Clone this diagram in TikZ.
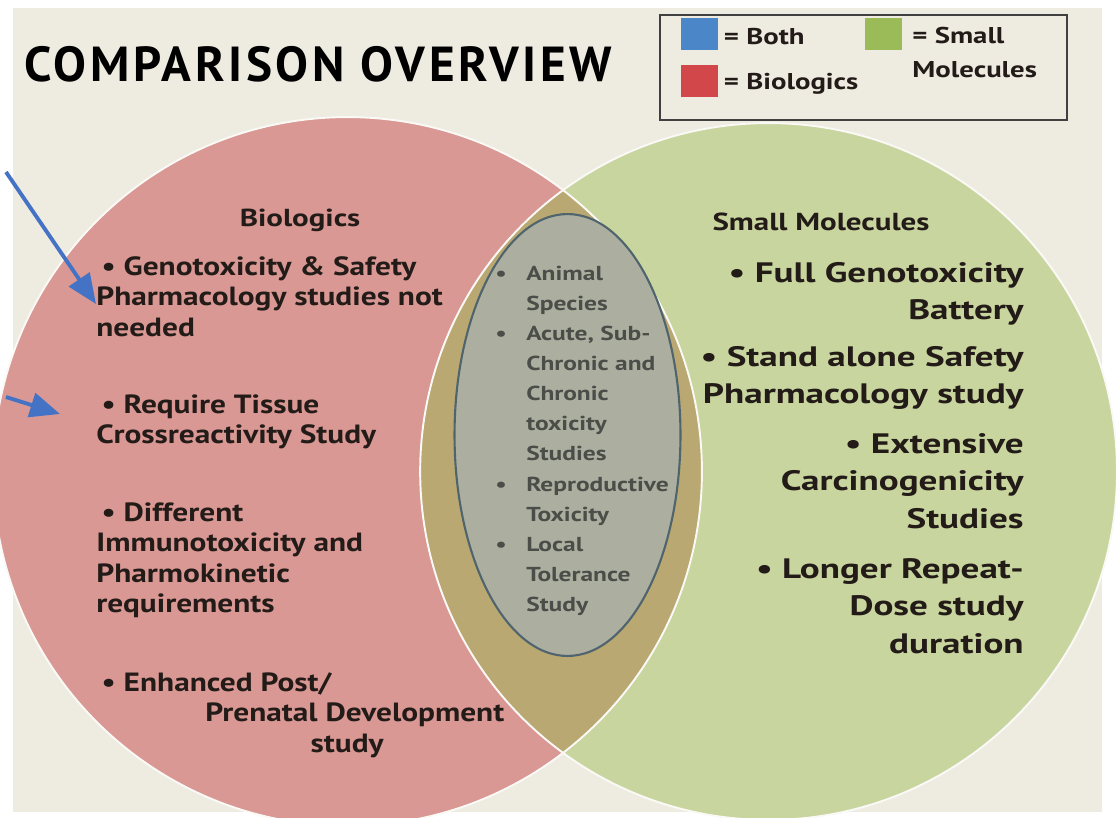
\documentclass[tikz,border=0pt]{standalone}
\usepackage{fontspec}
\setmainfont{PT Sans}
% widened cuts of the same face for the different text blocks
\newfontfamily\titlefont{PT Sans}[LetterSpace=7.5]
\newfontfamily\leftfont{PT Sans}[FakeStretch=1.19]
\newfontfamily\rightfont{PT Sans}[FakeStretch=1.32]
\newfontfamily\widefont{PT Sans}[FakeStretch=1.26]
\usetikzlibrary{arrows.meta,positioning,shapes.geometric}
\definecolor{paper}{HTML}{EEEBE1}
\definecolor{biored}{HTML}{D99893}
\definecolor{smgreen}{HTML}{C8D59E}
\definecolor{overlap}{HTML}{BAA872}
\definecolor{ovalfill}{HTML}{ACAFA0}
\definecolor{ovalline}{HTML}{50646E}
\definecolor{ovalink}{HTML}{4B4D48}
\definecolor{inkdark}{HTML}{231B18}
\definecolor{keyblue}{HTML}{4A86C8}
\definecolor{keyred}{HTML}{D2484A}
\definecolor{keygreen}{HTML}{9BBB59}
\definecolor{pointerblue}{HTML}{4472C4}
% bullet and hanging indent for the shared list
\newcommand{\lbl}{\makebox[17.6pt][l]{\textbullet}}
\newcommand{\lin}{\hspace*{17.6pt}}
\tikzset{
  vennedge/.style={draw=white!70!paper, line width=1.1pt},
  sharedoval/.style={ellipse, draw=ovalline, line width=1.2pt, fill=ovalfill, minimum width=4.52cm, minimum height=8.84cm, inner sep=0pt},
  lefttext/.style={font=\leftfont\bfseries\fontsize{15}{17.4}\selectfont, text=inkdark, align=left, inner sep=0pt, anchor=north west},
  righttext/.style={font=\rightfont\bfseries\fontsize{16}{21.3}\selectfont, text=inkdark, align=right, inner sep=0pt, anchor=north east},
  ovaltext/.style={font=\widefont\bfseries\fontsize{11.5}{17.1}\selectfont, text=ovalink, align=left, inner sep=0pt, anchor=north west},
  heading/.style={font=\widefont\bfseries\fontsize{14}{16}\selectfont, text=inkdark, inner sep=0pt},
  swatch/.style={minimum width=0.74cm, minimum height=0.64cm, inner sep=0pt},
  keytext/.style={font=\widefont\bfseries\fontsize{13}{19}\selectfont, text=inkdark, inner sep=0pt, align=left},
  pointer/.style={-{Triangle[length=17pt,width=14pt]}, line width=2.2pt, draw=pointerblue}
}
\begin{document}
\begin{tikzpicture}[x=0.02cm, y=-0.02cm]
\useasboundingbox (0,0) rectangle (1116,818);
\clip (0,0) rectangle (1116,818);
\fill[white] (0,0) rectangle (1116,818);
\fill[paper] (13,8) rectangle (1102,812);

% the two sets
\coordinate (bio) at (347.5,471.5);
\coordinate (sm) at (768.6,471.5);
\fill[biored] (bio) circle (7.09cm);
\fill[smgreen] (sm) circle (6.97cm);
\begin{scope}
  \clip (bio) circle (7.09cm);
  \fill[overlap] (sm) circle (6.97cm);
\end{scope}
\draw[vennedge] (bio) circle (7.09cm);
\draw[vennedge] (sm) circle (6.97cm);
\node[sharedoval] (shared) at (567.5,435) {};

% title and key
\node[anchor=west, inner sep=0pt, font=\titlefont\bfseries\fontsize{28}{32}\selectfont] (title) at (24,64) {COMPARISON OVERVIEW};
\node[draw=black!75, line width=1.2pt, minimum width=8.14cm, minimum height=2.1cm] (key) at (863.5,67.5) {};
\node[swatch, fill=keyblue] (kboth) at (699.5,34) {};
\node[swatch, fill=keyred] (kbio) at (699.5,81) {};
\node[swatch, fill=keygreen] (ksm) at (883,34) {};
\node[keytext, right=3pt of kboth, yshift=-1.5pt] (lboth) {= Both};
\node[keytext, right=3pt of kbio, yshift=-1.5pt] (lbio) {= Biologics};
\node[keytext, anchor=north west] (lsm) at (912,27) {= Small\\Molecules};

% biologics column
\node[heading] (biohead) at (300,220) {Biologics};
\node[lefttext] (b1) at (96,256) {\hspace*{3pt}\textbullet\ Genotoxicity \& Safety\\Pharmacology studies not\\needed};
\node[lefttext] (b2) at (96,394) {\hspace*{3pt}\textbullet\ Require Tissue\\Crossreactivity Study};
\node[lefttext] (b3) at (96,502) {\hspace*{3pt}\textbullet\ Different\\Immunotoxicity and\\Pharmokinetic\\requirements};
\node[lefttext] (b4) at (96,672) {\hspace*{3pt}\textbullet\ Enhanced Post/\\\hspace*{62pt}Prenatal Development\\\hspace*{122pt}study};

% shared list
\node[ovaltext] (common) at (495,266) {\lbl Animal\\\lin Species\\\lbl Acute, Sub-\\\lin Chronic and\\\lin Chronic\\\lin toxicity\\\lin Studies\\\lbl Reproductive\\\lin Toxicity\\\lbl Local\\\lin Tolerance\\\lin Study};

% small molecules column
\node[heading] (smhead) at (821,222) {Small Molecules};
\node[righttext] (s1) at (1024,262) {\textbullet\ Full Genotoxicity\\Battery};
\node[righttext] (s2) at (1024,346) {\textbullet\ Stand alone Safety\\Pharmacology study};
\node[righttext] (s3) at (1024,433) {\textbullet\ Extensive\\Carcinogenicity\\Studies};
\node[righttext] (s4) at (1024,558) {\textbullet\ Longer Repeat-\\Dose study\\duration};

% pointers
\coordinate (p1) at (6,172);
\coordinate (p2) at (6,397);
\draw[pointer] (p1) -- (b1.west |- 0,304);
\draw[pointer] (p2) -- (60,414);
\end{tikzpicture}
\end{document}
